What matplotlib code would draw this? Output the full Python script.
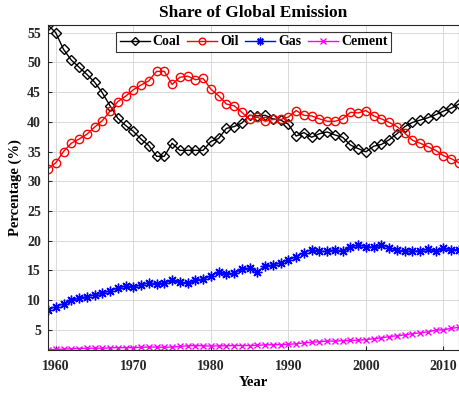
import numpy as np
import matplotlib
matplotlib.use('Agg')
import matplotlib.pyplot as plt

# share of global emission per source, 1959-2012
years = np.arange(1959, 2013)

coal = [56.3, 55.0, 52.2, 50.4, 49.2, 48.0, 46.7, 44.9, 42.7, 40.6,
        39.4, 38.4, 37.1, 36.0, 34.2, 34.2, 36.4, 35.2, 35.2, 35.2,
        35.2, 36.7, 37.2, 38.9, 39.2, 39.8, 41.1, 41.0, 41.1, 40.5,
        40.3, 39.6, 37.6, 38.2, 37.4, 38.0, 38.3, 37.8, 37.4, 36.1,
        35.5, 34.95, 35.9, 36.2, 37.0, 38.0, 39.2, 39.9, 40.3, 40.7,
        41.2, 41.8, 42.3, 43.0]
oil = [32.1, 33.1, 35.0, 36.4, 37.1, 37.9, 39.1, 40.2, 41.8, 43.4,
       44.3, 45.4, 46.2, 46.9, 48.5, 48.5, 46.3, 47.5, 47.7, 47.1,
       47.3, 45.5, 44.4, 43.0, 42.7, 41.6, 40.4, 40.8, 40.1, 40.4,
       40.4, 40.8, 41.9, 41.1, 41.0, 40.5, 40.1, 40.1, 40.5, 41.6,
       41.5, 41.9, 41.0, 40.5, 39.9, 39.2, 38.1, 36.9, 36.4, 35.8,
       35.2, 34.3, 33.8, 33.1]
gas = [8.4, 8.9, 9.4, 10.0, 10.3, 10.6, 10.9, 11.2, 11.6, 12.0,
       12.4, 12.2, 12.6, 12.9, 12.7, 12.9, 13.3, 13.0, 12.8, 13.3,
       13.5, 14.1, 14.7, 14.4, 14.5, 15.2, 15.4, 14.8, 15.7, 15.9,
       16.3, 16.8, 17.3, 18.0, 18.5, 18.2, 18.2, 18.5, 18.2, 18.9,
       19.3, 19.0, 18.9, 19.3, 18.8, 18.4, 18.2, 18.2, 18.3, 18.6,
       18.2, 18.7, 18.5, 18.5]
cement = [1.6, 1.7, 1.75, 1.8, 1.85, 1.9, 1.9, 1.9, 1.95, 2.0,
          2.0, 2.0, 2.05, 2.1, 2.1, 2.05, 2.1, 2.2, 2.3, 2.35,
          2.3, 2.25, 2.3, 2.3, 2.35, 2.35, 2.35, 2.4, 2.45, 2.5,
          2.5, 2.55, 2.65, 2.8, 2.9, 3.0, 3.1, 3.1, 3.15, 3.2,
          3.25, 3.35, 3.5, 3.65, 3.85, 4.0, 4.15, 4.35, 4.5, 4.65,
          4.95, 5.0, 5.25, 5.4]

plt.rcParams['font.family'] = ['Liberation Serif', 'DejaVu Serif']
plt.rcParams['font.weight'] = 'bold'

fig = plt.figure(figsize=(4.59, 3.94), dpi=100)
ax = fig.add_axes([48 / 459, 1 - 350 / 394, 1 - 48 / 459, 325 / 394])

ax.plot(years, coal, color='k', marker='D', ms=5.5, mfc='none', lw=1, label='Coal')
ax.plot(years, oil, color='r', marker='o', ms=6, mfc='none', lw=1, label='Oil')
# matlab style asterisk: 8 arms
ax.plot(years, gas, color='b', marker=(8, 2, 0), ms=7, mew=1, lw=1, label='Gas')
ax.plot(years, cement, color='#ff00ff', marker='x', ms=5, lw=1, label='Cement')

allv = coal + oil + gas + cement
ax.set_xlim(years[0], years[-1])
ax.set_ylim(min(allv), max(allv))
ax.set_xticks(range(1960, 2011, 10))
ax.set_yticks(range(5, 56, 5))

ax.grid(True, color='#d9d9d9', lw=0.7)
ax.set_axisbelow(True)
ax.tick_params(direction='in', length=3, labelsize=10, colors='#262626', pad=5)
ax.tick_params(axis='x', pad=7)
for s in ax.spines.values():
    s.set_color('#262626')

ax.set_title('Share of Global Emission', fontsize=12.5, fontweight='bold', pad=6)
ax.set_xlabel('Year', fontsize=10.5, fontweight='bold', labelpad=2)
ax.set_ylabel('Percentage (%)', fontsize=10.5, fontweight='bold', labelpad=4)

leg = ax.legend(ncol=4, loc='upper center', bbox_to_anchor=(0.5, 1.0),
                fontsize=10, frameon=True, fancybox=False, edgecolor='k',
                handlelength=2.2, handletextpad=0.2, columnspacing=0.45,
                borderpad=0.25, borderaxespad=0.5, markerscale=0.8)
leg.get_frame().set_linewidth(0.8)

fig.savefig('out.png', dpi=100)
